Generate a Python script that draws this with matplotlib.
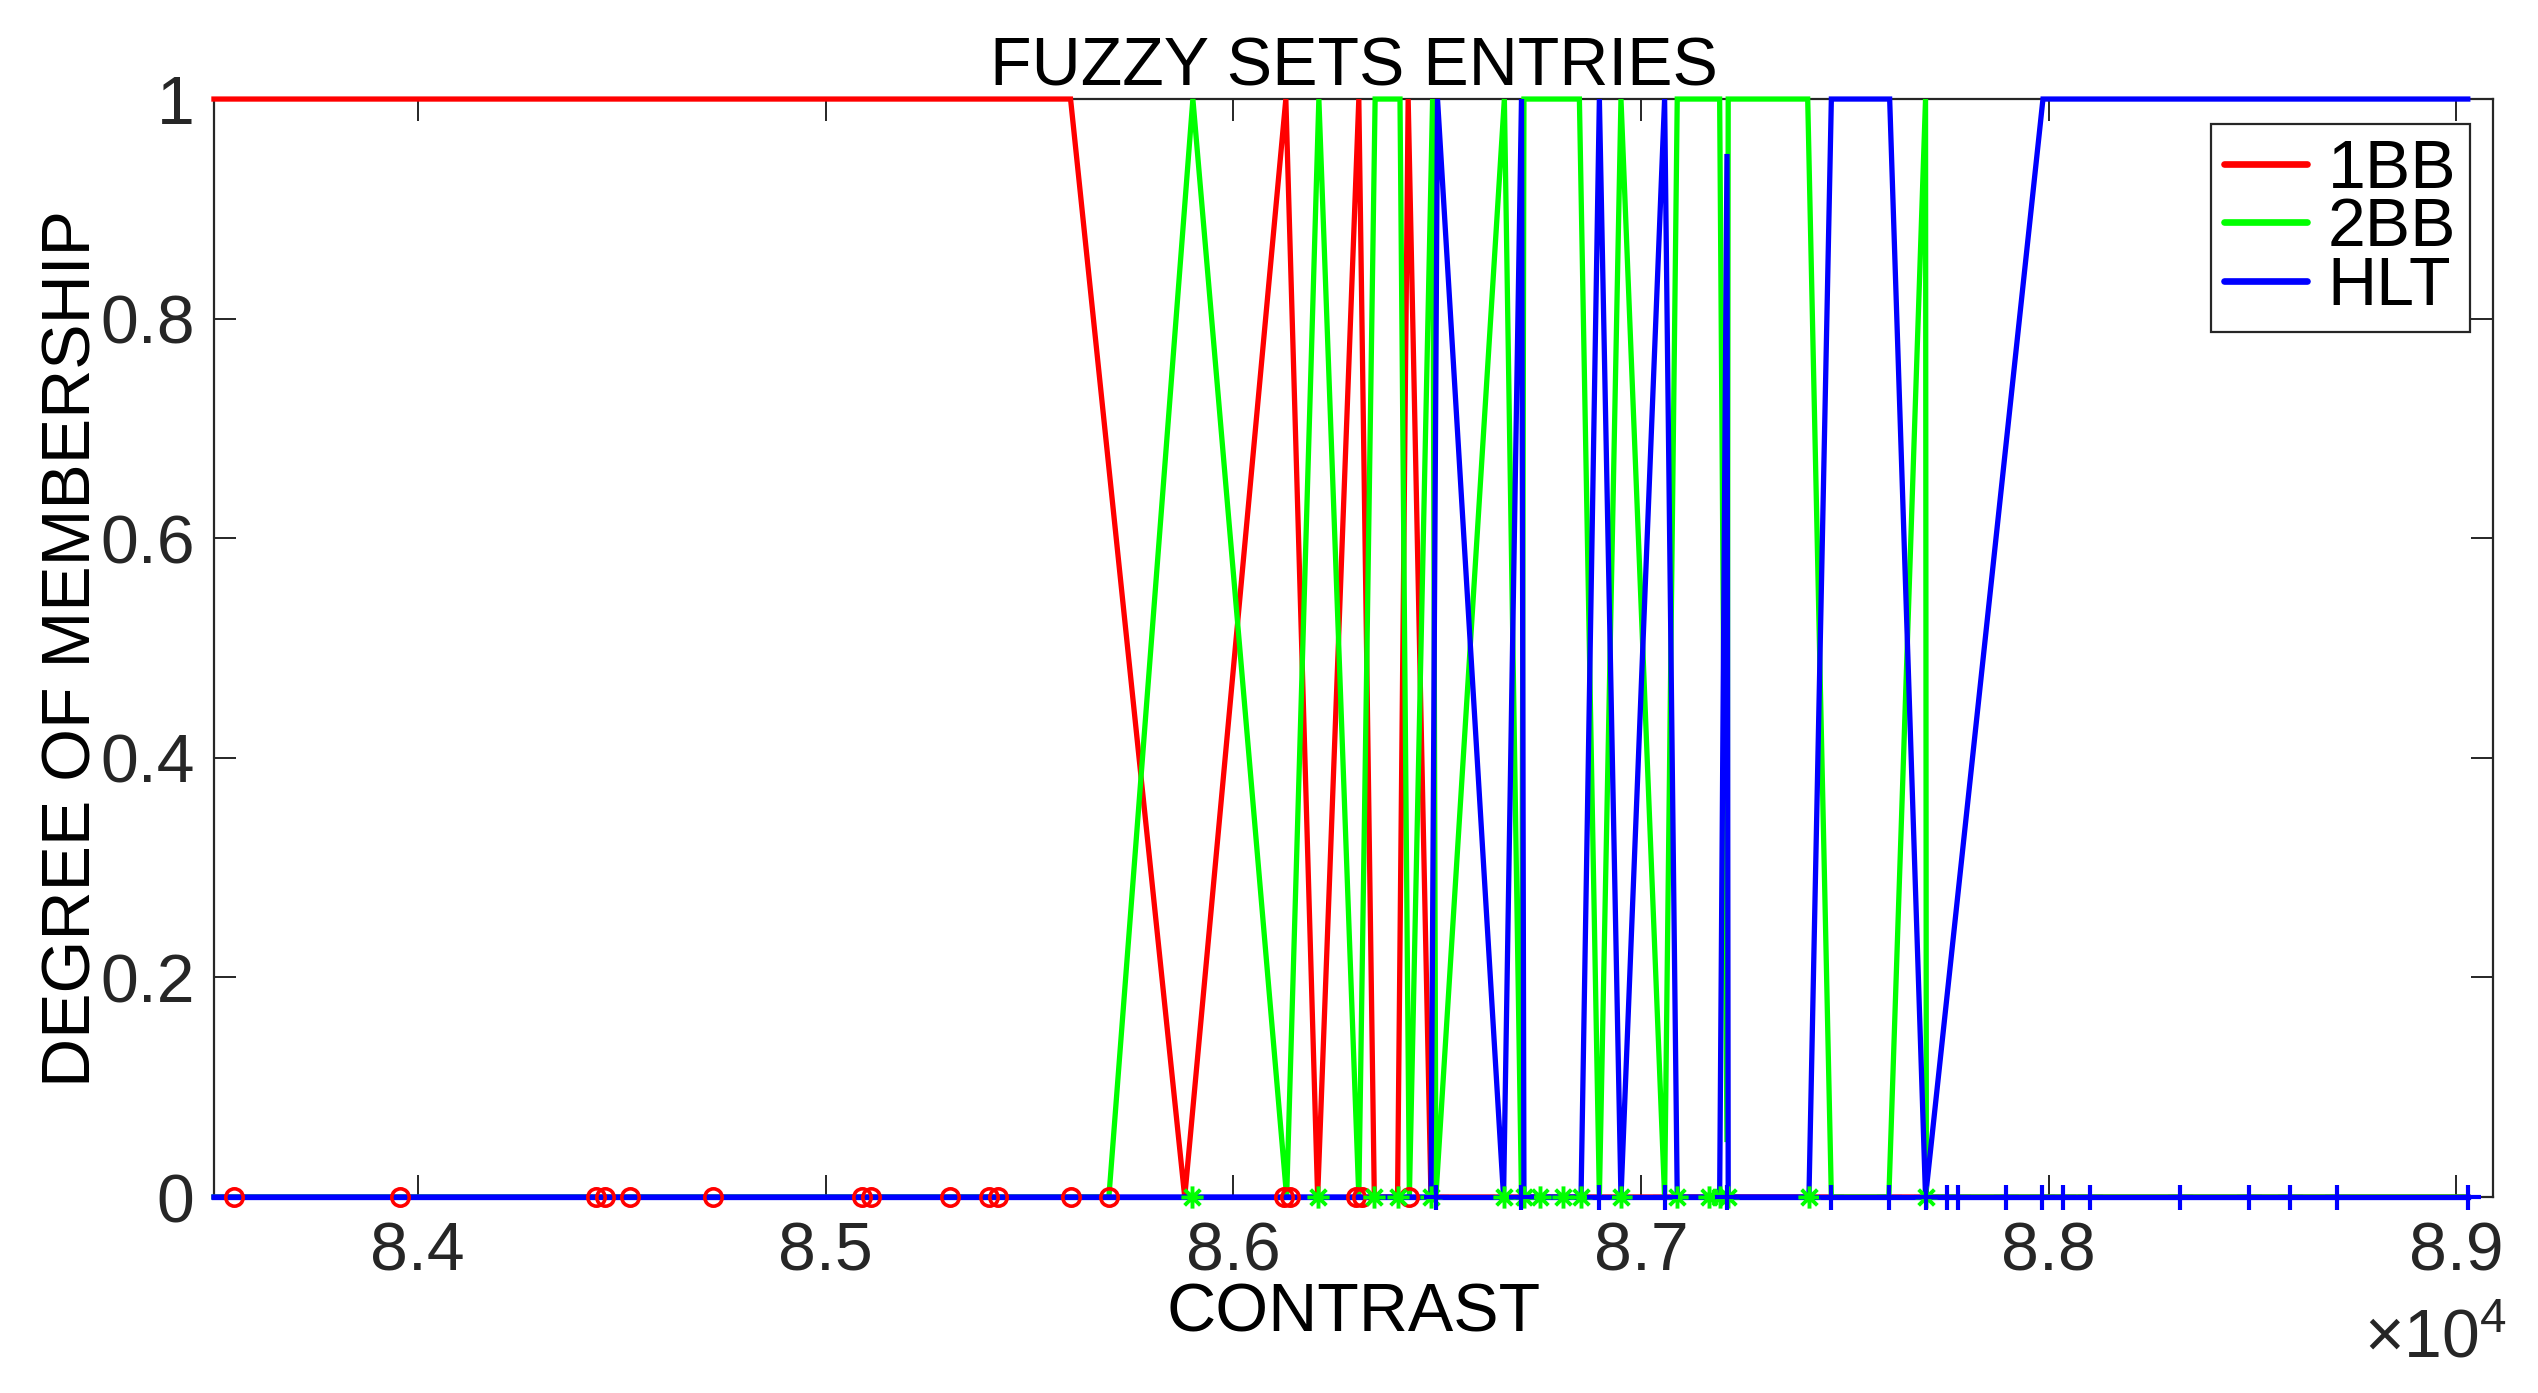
import matplotlib
matplotlib.use('Agg')
import matplotlib.pyplot as plt
from matplotlib.path import Path

plt.rcParams['font.family'] = ['Liberation Sans', 'DejaVu Sans']
plt.rcParams['mathtext.fontset'] = 'custom'
plt.rcParams['mathtext.rm'] = 'Liberation Sans'
plt.rcParams['mathtext.it'] = 'Liberation Sans'
plt.rcParams['mathtext.bf'] = 'Liberation Sans:bold'

# ---------------- data ----------------
# membership polylines (contrast value, degree of membership)
x_1bb_line = [83500, 85601, 85881, 86129, 86207, 86308, 86346, 86403, 86429, 86485, 89028]
mu_1bb_line = [1, 1, 0, 1, 0, 1, 0, 0, 1, 0, 0]

x_2bb_line = [83500, 85695, 85901, 86131, 86210, 86308, 86348, 86409, 86432, 86489, 86497,
              86665, 86707, 86713, 86849, 86898, 86951, 87058, 87089, 87193, 87211, 87214,
              87409, 87467, 87608, 87698, 87700, 89028]
mu_2bb_line = [0, 0, 1, 0, 1, 0, 1, 1, 0, 1, 0,
               1, 0, 1, 1, 0, 1, 0, 1, 1, 0.05, 1,
               1, 0, 0, 1, 0, 0]

x_hlt_line = [83500, 86485, 86501, 86663, 86707, 86713, 86853, 86898, 86951, 87058, 87089,
              87193, 87211, 87214, 87412, 87467, 87610, 87698, 87986, 89028]
mu_hlt_line = [0, 0, 1, 0, 1, 0, 0, 1, 0, 1, 0,
               0, 0.95, 0, 0, 1, 1, 0, 1, 1]

# sample entries (drawn on the zero line)
pts_1bb = [83550, 83956, 84437, 84458, 84520, 84723, 85090, 85112, 85306, 85402, 85424,
           85601, 85695, 86124, 86139, 86301, 86315, 86432]
pts_2bb = [85898, 86207, 86346, 86403, 86485, 86663, 86713, 86753, 86808, 86853, 86951,
           87089, 87168, 87193, 87214, 87412, 87698]
pts_hlt = [86497, 86707, 86898, 87058, 87211, 87467, 87608, 87698, 87750, 87777, 87895,
           87983, 88035, 88101, 88323, 88492, 88591, 88708, 89028]

x_ticks = [84000, 85000, 86000, 87000, 88000, 89000]
x_tick_labels = ['8.4', '8.5', '8.6', '8.7', '8.8', '8.9']
y_ticks = [0, 0.2, 0.4, 0.6, 0.8, 1]
y_tick_labels = ['0', '0.2', '0.4', '0.6', '0.8', '1']
x_limits = (83500, 89090)
legend_labels = ['1BB', '2BB', 'HLT']
x_multiplier = r'${\times}10^{4}$'

# ---------------- styling ----------------
DPI = 100
FS = 49
AXC = '#262626'
LW = 3.8

fig = plt.figure(figsize=(25.38, 13.93), dpi=DPI)
ax = fig.add_axes([0.0843, 0.1407, 0.8980, 0.7882])

l1, = ax.plot(x_1bb_line, mu_1bb_line, color='#ff0000', lw=LW, clip_on=False, zorder=3,
              solid_joinstyle='miter')
l2, = ax.plot(x_2bb_line, mu_2bb_line, color='#00ff00', lw=LW, clip_on=False, zorder=3.1,
              solid_joinstyle='miter')
l3, = ax.plot(x_hlt_line, mu_hlt_line, color='#0000ff', lw=LW, clip_on=False, zorder=3.2,
              solid_joinstyle='miter')

# zero baseline in blue
ax.plot([x_1bb_line[0], pts_hlt[-1]], [0, 0], color='#0000ff', lw=LW, clip_on=False, zorder=3.3)

# asterisk marker (MATLAB style)
c = 0.7071
ast = Path([(-1, 0), (1, 0), (0, -1), (0, 1), (-c, -c), (c, c), (-c, c), (c, -c)],
           [Path.MOVETO, Path.LINETO] * 4)

ax.plot(pts_1bb, [0] * len(pts_1bb), linestyle='none', marker='o', ms=12.5, mew=2.6,
        mfc='none', mec='#ff0000', clip_on=False, zorder=4)
ax.plot(pts_2bb, [0] * len(pts_2bb), linestyle='none', marker=ast, ms=16, mew=2.8,
        mfc='none', mec='#00ff00', clip_on=False, zorder=4.1)
ax.plot(pts_hlt, [0] * len(pts_hlt), linestyle='none', marker='+', ms=18, mew=3.0,
        mec='#0000ff', clip_on=False, zorder=4.2)

ax.set_xlim(*x_limits)
ax.set_ylim(0, 1)
ax.set_xticks(x_ticks)
ax.set_xticklabels(x_tick_labels)
ax.set_yticks(y_ticks)
ax.set_yticklabels(y_tick_labels)

for s in ax.spines.values():
    s.set_color(AXC)
    s.set_linewidth(1.6)
ax.tick_params(axis='both', which='both', direction='in', length=16, width=1.4,
               color=AXC, labelcolor=AXC, labelsize=FS, top=True, right=True)
ax.tick_params(axis='x', pad=17)
ax.tick_params(axis='y', pad=14)

ax.set_title('FUZZY SETS ENTRIES', fontsize=FS, color='black', pad=6)
ax.set_xlabel('CONTRAST', fontsize=FS, color='black')
ax.xaxis.set_label_coords(0.5, -0.077)
ax.set_ylabel('DEGREE OF MEMBERSHIP', fontsize=FS, color='black')
ax.yaxis.set_label_coords(-0.048, 0.5)

# x10^4 multiplier (single text)
ax.text(1.006, -0.1457, x_multiplier, transform=ax.transAxes, fontsize=FS, color=AXC,
        ha='right', va='baseline')

leg = ax.legend([l1, l2, l3], legend_labels, loc='upper right',
                bbox_to_anchor=(0.9899, 0.9772), borderaxespad=0, fontsize=FS,
                handlelength=1.22, handletextpad=0.3, labelspacing=-0.08,
                borderpad=0.2, fancybox=False, framealpha=1, edgecolor=AXC)
leg.get_frame().set_linewidth(1.6)
for h in leg.get_lines():
    h.set_linewidth(4.8)
    h.set_solid_capstyle('round')

fig.savefig('out.png', dpi=DPI)
